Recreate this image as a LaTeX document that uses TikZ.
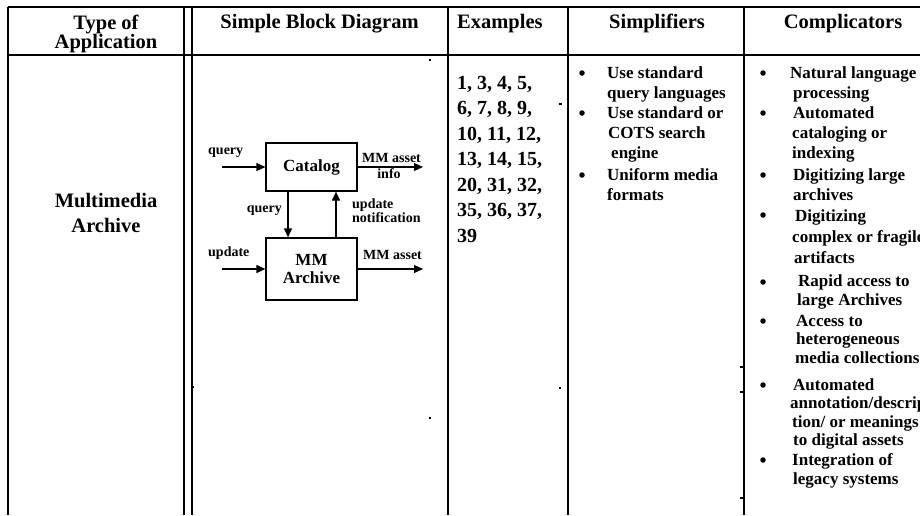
\documentclass[tikz,border=0pt]{standalone}
\usepackage{fontspec}
\setmainfont{Liberation Serif}
\usetikzlibrary{arrows.meta}
\begin{document}
\begin{tikzpicture}[x=1pt,y=-1pt,
  tabrule/.style={line width=1.2pt},
  hdr/.style={font=\fontsize{20.5}{22}\selectfont\bfseries, anchor=base, inner sep=0pt},
  ex/.style={font=\fontsize{20}{24}\selectfont\bfseries, anchor=base west, inner sep=0pt},
  body/.style={font=\fontsize{17}{20}\selectfont\bfseries, anchor=base west, inner sep=0pt},
  lbl/.style={font=\fontsize{14}{14}\selectfont\bfseries, anchor=base west, inner sep=0pt},
  blk/.style={draw, line width=1.2pt, font=\fontsize{17}{18}\selectfont\bfseries, inner sep=0pt, minimum width=91pt},
  flow/.style={line width=1.2pt, -{Triangle[length=9pt,width=8pt]}},
  bul/.style={circle, fill, inner sep=0pt, minimum size=5.5pt}
]
\clip (0,0) rectangle (920,515);
% table rules
\draw[tabrule] (8,7) -- (920,7);
\draw[tabrule] (8,55) -- (920,55);
\foreach \x in {8,184,192,448,568,744} \draw[tabrule] (\x,7) -- (\x,515);
% small stray marks
\fill (559,103) rectangle +(2.5,1.5);
\fill (559,387) rectangle +(2,1.5);
\fill (429,59) rectangle +(2,1.5);
\fill (429,417) rectangle +(1.5,1.5);
\fill (192,386) rectangle +(2,1.5);
\fill (740,366) rectangle +(3,1.5);
\fill (740,391) rectangle +(3,1.5);
\fill (740,497) rectangle +(3,1.5);

% header
\node[hdr] (hType) at (106,29) {Type of};
\node[hdr] (hApp) at (106,48.5) {Application};
\node[hdr] (hBlock) at (319.5,28.5) {Simple Block Diagram};
\node[hdr, anchor=base west] (hEx) at (457,28.5) {Examples};
\node[hdr] (hSimp) at (657,28.5) {Simplifiers};
\node[hdr] (hComp) at (843,28.5) {Complicators};

% row label
\node[hdr] (mm1) at (106,207) {Multimedia};
\node[hdr] (mm2) at (106,232) {Archive};

% block diagram
\node[blk, minimum height=48pt] (cat) at (311.5,167) {Catalog};
\node[blk, minimum height=62pt, align=center] (arc) at (311.5,269) {MM\\Archive};
\coordinate (qin) at (222,167);
\coordinate (infoout) at (423,167);
\coordinate (uin) at (222,269);
\coordinate (assetout) at (423,269);
\draw[flow] (qin) -- (cat.west);
\draw[flow] (cat.east) -- (infoout);
\draw[flow] ([xshift=-23.5pt]cat.south) -- ([xshift=-23.5pt]arc.north);
\draw[flow] ([xshift=24.5pt]arc.north) -- ([xshift=24.5pt]cat.south);
\draw[flow] (uin) -- (arc.west);
\draw[flow] (arc.east) -- (assetout);
\node[lbl] (lq) at (208,154) {query};
\node[lbl] (lasset1) at (362,162) {MM asset};
\node[lbl, anchor=base] (linfo) at (389,178) {info};
\node[lbl, anchor=base east] (lq2) at (282,212) {query};
\node[lbl] (lun1) at (352,208) {update};
\node[lbl] (lun2) at (352,222) {notification};
\node[lbl] (lu) at (208,256) {update};
\node[lbl] (lasset2) at (363,259) {MM asset};

% examples
\foreach \t [count=\i] in {{1, 3, 4, 5,},{6, 7, 8, 9,},{10, 11, 12,},{13, 14, 15,},{20, 31, 32,},{35, 36, 37,},{39}}
  \node[ex] (ex\i) at (457,{89+25.5*(\i-1)}) {\t};

% simplifiers
\foreach \y [count=\i] in {73,113,175} \node[bul] (sb\i) at (582,\y) {};
\node[body] (s1) at (607,78) {Use standard};
\node[body] (s2) at (607,98) {query languages};
\node[body] (s3) at (607,118) {Use standard or};
\node[body] (s4) at (608,138) {COTS search};
\node[body] (s5) at (611,158) {engine};
\node[body] (s6) at (607,180) {Uniform media};
\node[body] (s7) at (607,200) {formats};

% complicators
\foreach \y [count=\i] in {73,113,175,215,282,321,385,460} \node[bul] (cb\i) at (763,\y) {};
\node[body] (c1) at (790,78) {Natural language};
\node[body] (c2) at (793,98) {processing};
\node[body] (c3) at (793,118) {Automated};
\node[body] (c4) at (792,138) {cataloging or};
\node[body] (c5) at (792,158) {indexing};
\node[body] (c6) at (793,180) {Digitizing large};
\node[body] (c7) at (793,200) {archives};
\node[body] (c8) at (795,221) {Digitizing};
\node[body] (c9) at (792,242) {complex or fragile};
\node[body] (c10) at (794,263) {artifacts};
\node[body] (c11) at (798,286.5) {Rapid access to};
\node[body] (c12) at (797,305) {large Archives};
\node[body] (c13) at (796,326) {Access to};
\node[body] (c14) at (796,344) {heterogeneous};
\node[body] (c15) at (795,363) {media collections};
\node[body] (c16) at (793,390) {Automated};
\node[body] (c17) at (790,408) {annotation/descrip};
\node[body] (c18) at (792,427) {tion/ or meanings};
\node[body] (c19) at (793,445) {to digital assets};
\node[body] (c20) at (792,465) {Integration of};
\node[body] (c21) at (793,484) {legacy systems};
\end{tikzpicture}
\end{document}
